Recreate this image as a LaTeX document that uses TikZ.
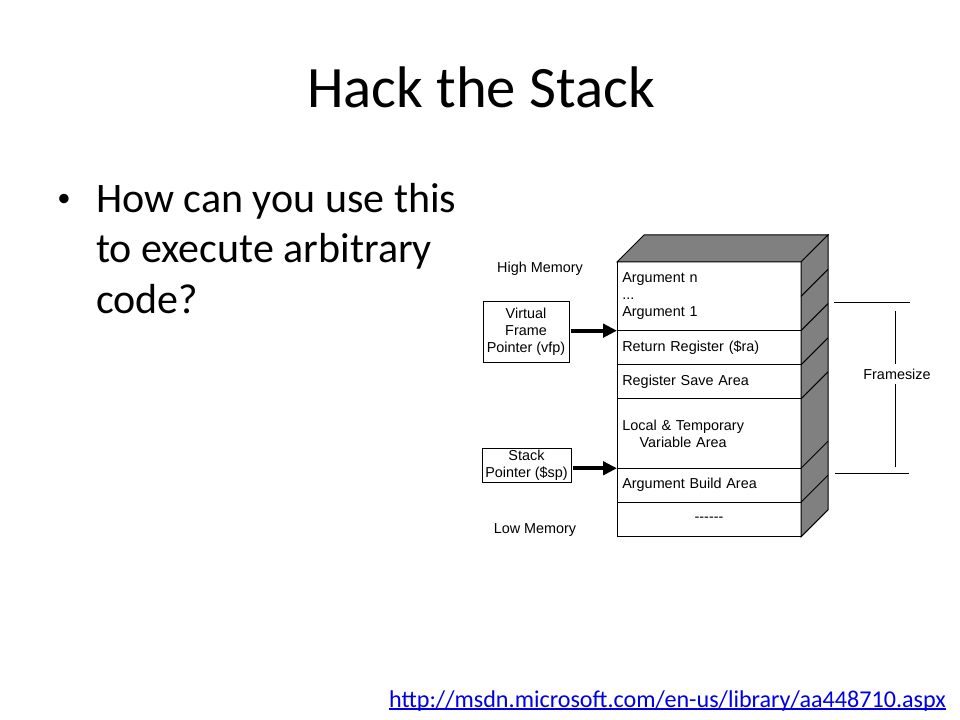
\documentclass[tikz,border=0pt]{standalone}
\usepackage{fontspec}
\setmainfont{Carlito}
\newfontfamily\diagfont{Liberation Sans}
\usetikzlibrary{arrows.meta,positioning}
\definecolor{linkblue}{RGB}{0,0,230}

\tikzset{
  cell/.style={draw, line width=0.75pt, outer sep=0pt, inner xsep=4pt, inner ysep=0pt,
    text width=130pt, align=left, minimum height=#1},
  ptrbox/.style={draw, line width=0.75pt, align=center, inner sep=1pt},
  ptr/.style={line width=3pt, -{Triangle[length=10.5pt,width=10pt]}, shorten <=1pt},
  face/.style={draw, line width=0.75pt, fill=gray},
  dfont/.style={font=\diagfont\fontsize{10.8}{12.9}\selectfont}
}

\begin{document}
\begin{tikzpicture}[x=0.75pt,y=-0.75pt]
\useasboundingbox (0,0) rectangle (960,720);

\node [anchor=base, font=\fontsize{44}{53}\selectfont] (title) at (481,108) {Hack the Stack};

\node [font=\fontsize{20}{24}\selectfont] (dot) at (64,200) {\textbullet};
\node [anchor=base west, align=left, inner sep=0pt, font=\fontsize{31.5}{37.5}\selectfont]
  (question) at (96,313) {How can you use this\\to execute arbitrary\\code?};

% the stack
\begin{scope}[dfont]
\node [cell=51.5pt, anchor=north west] (row1) at (617,262) {Argument n\\...\\Argument 1};
\node [cell=25.7pt, below=0pt of row1] (row2) {Return Register (\$ra)};
\node [cell=25.5pt, below=0pt of row2] (row3) {Register Save Area};
\node [cell=52pt, below=0pt of row3] (row4) {Local \& Temporary\\\hspace*{13pt}Variable Area};
\node [cell=25.5pt, below=0pt of row4] (row5) {Argument Build Area};
\node [cell=26pt, align=center, below=0pt of row5] (row6) {{-}{-}{-}{-}{-}{-}};

\draw [face] (row1.north west) -- ([shift={(27,-27)}]row1.north west)
  -- ([shift={(27,-27)}]row1.north east) -- (row1.north east) -- cycle;
\draw [face] (row1.north east) -- ([shift={(27,-27)}]row1.north east)
  -- ([shift={(27,-27)}]row6.south east) -- (row6.south east) -- cycle;
\draw [line width=0.75pt] (row1.east) -- ++(27,-27);
\foreach \r in {row2,row3,row4,row5,row6}
  \draw [line width=0.75pt] (\r.north east) -- ++(27,-27);

\node (high) at (540,269) {High Memory};
\node (low) at (535,530) {Low Memory};

\node [ptrbox, minimum width=64.5pt, minimum height=45pt] (vfp) at (526,332)
  {Virtual\\Frame\\Pointer (vfp)};
\node [ptrbox, minimum width=66.75pt, minimum height=25.5pt] (sp) at (526.5,465)
  {Stack\\Pointer (\$sp)};

\draw [ptr] (vfp.east |- row2.north west) -- (row2.north west);
\draw [ptr] (sp.east |- row5.north west) -- (row5.north west);

% framesize
\draw [line width=0.75pt] (834,303) -- (910,303);
\draw [line width=0.75pt] (835,473) -- (909,473);
\coordinate (fstop) at (895,311);
\coordinate (fsbot) at (895,467);
\node (fs) at (897,374) {Framesize};
\draw [line width=0.75pt] (fstop) -- (fstop |- fs.north);
\draw [line width=0.75pt] (fsbot) -- (fsbot |- fs.south);
\end{scope}

\node [anchor=base, inner sep=0pt, text=linkblue, font=\fontsize{18.1}{22}\selectfont]
  (link) at (667.5,707) {http://msdn.microsoft.com/en-us/library/aa448710.aspx};
\draw [linkblue, line width=1pt] ([yshift=-1.6pt]link.base west) -- ([yshift=-1.6pt]link.base east);
\end{tikzpicture}
\end{document}
